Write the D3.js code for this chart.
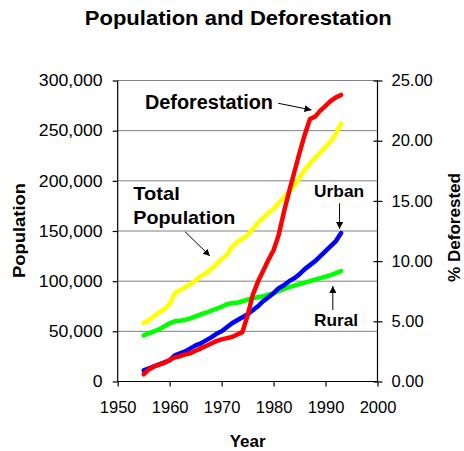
<!DOCTYPE html>
<html>
<head>
<meta charset="utf-8">
<script src="https://cdn.jsdelivr.net/npm/d3@7"></script>
<style>
  html, body { margin: 0; padding: 0; background: #fff; }
  text { font-family: "Liberation Sans", Arial, sans-serif; fill: #000; }
</style>
</head>
<body>
<svg id="chart" width="464" height="451"></svg>
<script>
// ---- data ----
const years = d3.range(1955, 1994);
const totalPop = [58,61,65,69,72,77,88,91,94,97,101,105,108,112,117,122,126,134,139,142,146,152,158,163,168,172,178,184,189,195,203,211,217,223,228,234,239,247,257].map(v => v * 1000);
const ruralPop = [46,48,50,52,55,58,60,60.5,61.5,63,65,67,68.5,70.5,72.5,74.5,77,78,78.5,80,81.5,83,84,85,86.5,88,90,92,94,95.5,97,98.5,100,101.5,103,104.5,106,108,110].map(v => v * 1000);
const urbanPop = [11,13,15,17,19,21,26,28,30,33,36,38,41,44,47.5,50,54,58,61,64,67,71,75,80,84,88,93,96,100,103,107,112,116,120,125,130,135,140,148].map(v => v * 1000);
const deforested = [0.6,1.0,1.25,1.4,1.55,1.8,2.0,2.1,2.25,2.35,2.55,2.75,2.95,3.15,3.35,3.5,3.6,3.7,3.9,4.1,5.5,7.2,8.3,9.2,10.1,10.9,12.2,14.1,15.8,17.4,19.0,20.5,21.8,22.0,22.5,22.9,23.3,23.6,23.8];

const xTicks = [1950,1960,1970,1980,1990,2000];
const yLeftTicks = [0,50000,100000,150000,200000,250000,300000];
const yRightTicks = [0,5,10,15,20,25];

// annotations in data units [year, population]
const annoTexts = [
  {lines: ["Deforestation"], x: 1955.25, y: 271600, size: 19.5, len: [128]},
  {lines: ["Total", "Population"], x: 1953.0, y: 180900, size: 19, len: [46.5, 102], dy: 24.3},
  {lines: ["Urban"], x: 1987.8, y: 183400, size: 17, len: [50]},
  {lines: ["Rural"], x: 1987.8, y: 55300, size: 17, len: [44]}
];
const annoArrows = [
  [[1980.9, 277300], [1987.3, 270600]],
  [[1962.95, 149300], [1967.76, 125100]],
  [[1992.7, 177600], [1992.7, 152000]],
  [[1991.4, 71300], [1991.4, 95200]]
];

// ---- layout ----
const svg = d3.select("#chart");
const pL = 117.7, pR = 377.5, pT = 80.5, pB = 381.5;

const x = d3.scaleLinear().domain([1950, 2000]).range([pL, pR]);
const yL = d3.scaleLinear().domain([0, 300000]).range([pB, pT]);
const yR = d3.scaleLinear().domain([0, 25]).range([pB, pT]);

// gridlines
svg.append("g").selectAll("line")
  .data(yLeftTicks.filter(d => d > 0))
  .join("line")
  .attr("x1", pL).attr("x2", pR)
  .attr("y1", d => yL(d)).attr("y2", d => yL(d))
  .attr("stroke", "#808080").attr("stroke-width", 1);

// axes
const fmtL = d3.format(",");
const axL = svg.append("g").attr("transform", `translate(${pL},0)`)
  .call(d3.axisLeft(yL).tickValues(yLeftTicks).tickFormat(fmtL).tickSize(5).tickPadding(10));
const axR = svg.append("g").attr("transform", `translate(${pR},0)`)
  .call(d3.axisRight(yR).tickValues(yRightTicks).tickFormat(d3.format(".2f")).tickSize(5).tickPadding(9));
axR.selectAll(".tick line").attr("x1", -4);
const axB = svg.append("g").attr("transform", `translate(0,${pB})`)
  .call(d3.axisBottom(x).tickValues(xTicks).tickFormat(d3.format("d")).tickSize(5).tickPadding(15));

[axL, axR, axB].forEach(a => {
  a.selectAll(".domain").attr("stroke", "#000").attr("stroke-width", 1.2);
  a.selectAll(".tick line").attr("stroke", "#000").attr("stroke-width", 1.2);
  a.selectAll("text").style("font-family", '"Liberation Sans", Arial, sans-serif')
    .style("font-size", "16.5px").attr("fill", "#000");
});
axL.selectAll(".domain").attr("d", `M0,${pT}V${pB}`);
axR.selectAll(".domain").attr("d", `M0,${pT}V${pB}`);
axB.selectAll(".domain").attr("d", `M${pL},0H${pR}`);
axL.selectAll("text").each(function() {
  const w = this.getComputedTextLength();
  d3.select(this).attr("textLength", w * 1.07).attr("lengthAdjust", "spacingAndGlyphs");
});

// lines
function drawLine(vals, yScale, color) {
  const data = years.map((yr, i) => [yr, vals[i]]);
  svg.append("path")
    .datum(data)
    .attr("fill", "none")
    .attr("stroke", color)
    .attr("stroke-width", 4.5)
    .attr("stroke-linejoin", "round")
    .attr("stroke-linecap", "round")
    .attr("d", d3.line().x(d => x(d[0])).y(d => yScale(d[1])));
}
drawLine(totalPop, yL, "#FFFF00");
drawLine(ruralPop, yL, "#00FF00");
drawLine(urbanPop, yL, "#0000FF");
drawLine(deforested, yR, "#FF0000");

// arrow marker
svg.append("defs").append("marker")
  .attr("id", "arrow").attr("viewBox", "0 0 10 10")
  .attr("refX", 10).attr("refY", 5)
  .attr("markerWidth", 7).attr("markerHeight", 7)
  .attr("markerUnits", "userSpaceOnUse")
  .attr("orient", "auto")
  .append("path").attr("d", "M0,0L10,5L0,10z").attr("fill", "#000");

svg.append("g").selectAll("line")
  .data(annoArrows)
  .join("line")
  .attr("x1", d => x(d[0][0])).attr("y1", d => yL(d[0][1]))
  .attr("x2", d => x(d[1][0])).attr("y2", d => yL(d[1][1]))
  .attr("stroke", "#000").attr("stroke-width", 1)
  .attr("marker-end", "url(#arrow)");

annoTexts.forEach(a => {
  a.lines.forEach((ln, i) => {
    svg.append("text")
      .attr("x", x(a.x))
      .attr("y", yL(a.y) + i * (a.dy || 0))
      .attr("font-size", a.size + "px")
      .attr("font-weight", "bold")
      .attr("textLength", a.len[i])
      .attr("lengthAdjust", "spacingAndGlyphs")
      .text(ln);
  });
});

// title and axis labels
svg.append("text")
  .attr("x", 238.3).attr("y", 25)
  .attr("text-anchor", "middle")
  .attr("font-size", "20px").attr("font-weight", "bold")
  .attr("textLength", 307).attr("lengthAdjust", "spacingAndGlyphs")
  .text("Population and Deforestation");

svg.append("text")
  .attr("transform", "translate(25,230.5) rotate(-90)")
  .attr("text-anchor", "middle")
  .attr("font-size", "17px").attr("font-weight", "bold")
  .attr("textLength", 95).attr("lengthAdjust", "spacingAndGlyphs")
  .text("Population");

svg.append("text")
  .attr("transform", "translate(460,227.5) rotate(-90)")
  .attr("text-anchor", "middle")
  .attr("font-size", "17px").attr("font-weight", "bold")
  .attr("textLength", 109).attr("lengthAdjust", "spacingAndGlyphs")
  .text("% Deforested");

svg.append("text")
  .attr("x", (pL + pR) / 2).attr("y", 446.7)
  .attr("text-anchor", "middle")
  .attr("font-size", "17px").attr("font-weight", "bold")
  .text("Year");
</script>
</body>
</html>
